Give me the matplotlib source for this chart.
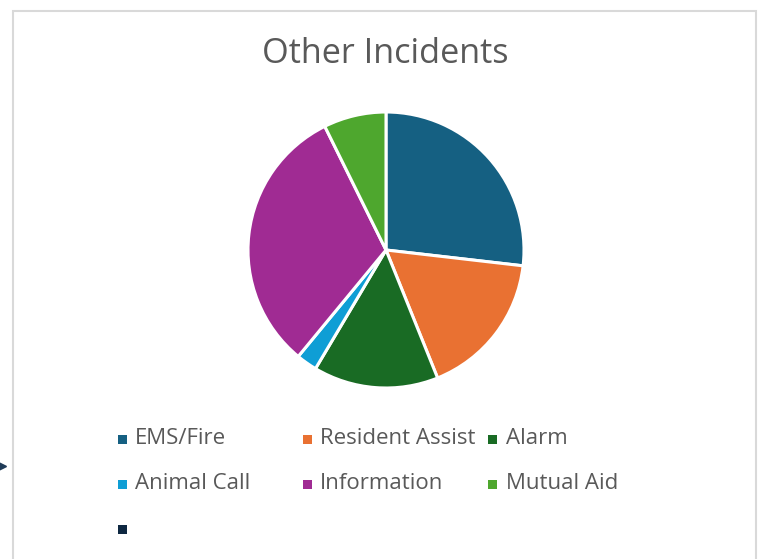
import matplotlib.pyplot as plt
from matplotlib.patches import Rectangle
from matplotlib.lines import Line2D

categories = ["EMS/Fire", "Resident Assist", "Alarm", "Animal Call", "Information", "Mutual Aid", ""]
values = [11, 7, 6, 1, 13, 3, 0]
colors = ["#156082", "#E97132", "#196B24", "#0F9ED5", "#A02B93", "#4EA72E", "#0E2841"]
title = "Other Incidents"

W, H = 758, 559
fig = plt.figure(figsize=(W / 100, H / 100), dpi=100)
fig.patch.set_facecolor("white")

def fx(px):
    return px / W

def fy(py):
    return 1 - py / H

# chart border
fig.add_artist(Rectangle((fx(12.5), fy(600)), fx(755.5) - fx(12.5), fy(11) - fy(600),
                         transform=fig.transFigure, fill=False, edgecolor="#D9D9D9", linewidth=1.5))
# small arrow at left edge
fig.add_artist(Line2D([fx(0)], [fy(466)], marker=">", markersize=8, color="#1F3B57",
                      transform=fig.transFigure, linestyle="none"))

# pie
cx, cy, r = 386, 250, 138
ax = fig.add_axes([fx(cx - r), fy(cy + r), (2 * r) / W, (2 * r) / H])
pie_vals = [v for v in values if v > 0]
pie_cols = [c for v, c in zip(values, colors) if v > 0]
ax.pie(pie_vals, colors=pie_cols, startangle=90, counterclock=False,
       wedgeprops=dict(edgecolor="white", linewidth=2.2))
ax.set_xlim(-1.0, 1.0)
ax.set_ylim(-1.0, 1.0)
ax.set_aspect("equal")
ax.axis("off")

fig.text(fx(385.5), fy(54), title, ha="center", va="center", fontsize=24.7,
         color="#595959", family="Open Sans")

# legend (3 columns, manual)
col_x = [122, 307, 493]
row_y = [439, 484, 529]
for i, (lab, col) in enumerate(zip(categories, colors)):
    r_i, c_i = divmod(i, 3)
    x0, y0 = col_x[c_i], row_y[r_i]
    fig.add_artist(Rectangle((fx(x0 - 4.5), fy(y0 + 4.5)), 9 / W, 9 / H, transform=fig.transFigure,
                             facecolor=col, edgecolor="none"))
    fig.text(fx(x0 + 13), fy(y0 - 0.5), lab, ha="left", va="center", fontsize=16,
             color="#595959", family="Open Sans")

fig.savefig("out.png", dpi=100, facecolor="white")
